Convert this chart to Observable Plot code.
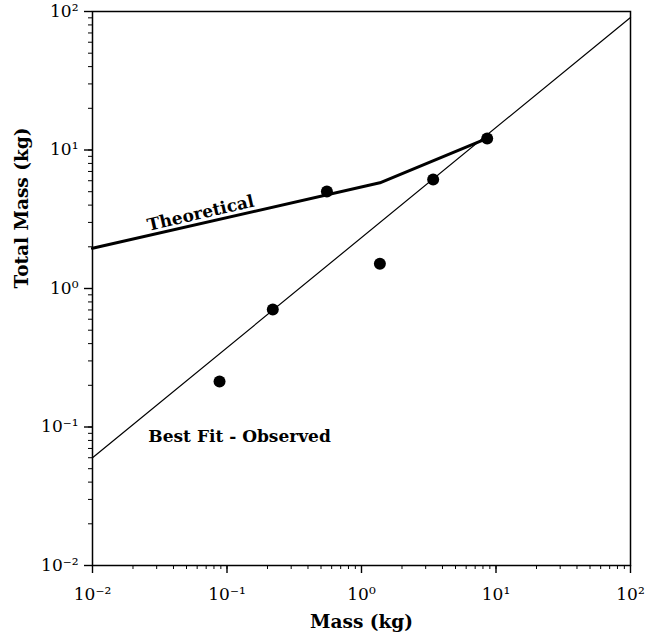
<!DOCTYPE html>
<html><head><meta charset="utf-8">
<script src="https://cdn.jsdelivr.net/npm/d3@7"></script>
<script src="https://cdn.jsdelivr.net/npm/@observablehq/plot@0.6"></script>
<style>body{margin:0;background:#fff;color:#000}</style>
</head><body><div id="chart"></div>
<script>
// Observed data
const obsMass = [0.088, 0.219, 0.553, 1.37, 3.41, 8.6];
const obsTotal = [0.213, 0.705, 5.01, 1.51, 6.12, 12.1];
// Theoretical curve
const theoMass = [0.01, 1.37, 8.0];
const theoTotal = [1.95, 5.8, 11.8];
// Best fit - observed
const fitMass = [0.01, 100];
const fitTotal = [0.06, 90.6];
// Ticks
const majorTicks = [0.01, 0.1, 1, 10, 100];
const minorMultipliers = [2, 3, 4, 5, 6, 7, 8, 9];
// Labels
const labelText = ["Theoretical", "Best Fit - Observed"];
const labelMass = [0.0637, 0.124];
const labelTotal = [3.49, 0.0853];
const labelRotate = [-13, 0];

const W = 652, H = 641, mL = 92, mR = 22, mT = 11, mB = 76;
const domain = [0.01, 100];
const minorTicks = majorTicks.slice(0, -1).flatMap(d => minorMultipliers.map(m => d * m));
const allTicks = majorTicks.concat(minorTicks).sort((a, b) => a - b);
const isMajor = d => majorTicks.some(m => Math.abs(m - d) / m < 1e-9);
const obs = obsMass.map((x, i) => ({x, y: obsTotal[i]}));
const theo = theoMass.map((x, i) => ({x, y: theoTotal[i]}));
const fit = fitMass.map((x, i) => ({x, y: fitTotal[i]}));
const labels = labelText.map((t, i) => ({t, x: labelMass[i], y: labelTotal[i], r: labelRotate[i]}));

// tick length (px) converted to data units outside the frame (log scale)
const decX = (W - mL - mR) / Math.log10(domain[1] / domain[0]);
const decY = (H - mT - mB) / Math.log10(domain[1] / domain[0]);
const outX = px => domain[0] * Math.pow(10, -px / decX);
const outY = px => domain[0] * Math.pow(10, -px / decY);

const sup = {"-": "\u207B", "0": "\u2070", "1": "\u00B9", "2": "\u00B2"};
const fmt = d => isMajor(d) ? "10" + String(Math.round(Math.log10(d))).split("").map(c => sup[c]).join("") : "";
const serif = "'DejaVu Serif', serif";

const chart = Plot.plot({
  width: W, height: H,
  marginLeft: mL, marginRight: mR, marginTop: mT, marginBottom: mB,
  x: {type: "log", domain, label: null},
  y: {type: "log", domain, label: null},
  marks: [
    Plot.axisX(allTicks, {tickSize: 4, tickPadding: 18, tickFormat: fmt, fontSize: 17, fontFamily: serif, label: null}),
    Plot.axisY(allTicks, {tickSize: 4, tickPadding: 10, tickFormat: fmt, fontSize: 17, fontFamily: serif, label: null}),
    Plot.ruleX(majorTicks, {x: d => d, y1: domain[0], y2: outY(8), strokeWidth: 1.4}),
    Plot.ruleY(majorTicks, {y: d => d, x1: domain[0], x2: outX(8), strokeWidth: 1.4}),
    Plot.frame({strokeWidth: 1.5}),
    Plot.line(fit, {x: "x", y: "y", strokeWidth: 1.2}),
    Plot.line(theo, {x: "x", y: "y", strokeWidth: 3}),
    Plot.dot(obs, {x: "x", y: "y", r: 6, fill: "currentColor", stroke: "none"}),
    Plot.text(labels, {x: "x", y: "y", text: "t", rotate: "r", fontSize: 17, fontWeight: "bold", fontFamily: serif}),
    Plot.text(["Mass (kg)"], {frameAnchor: "bottom", dy: 62, fontSize: 18.5, fontWeight: "bold", fontFamily: serif}),
    Plot.text(["Total Mass (kg)"], {frameAnchor: "left", dx: -70, rotate: -90, fontSize: 18.5, fontWeight: "bold", fontFamily: serif})
  ]
});
document.getElementById("chart").appendChild(chart);
</script>
</body></html>
